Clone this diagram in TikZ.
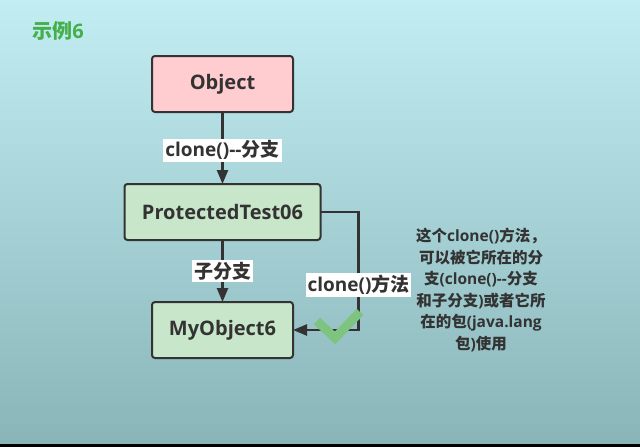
\documentclass[tikz,border=0pt]{standalone}
\usepackage{fontspec}
\setmainfont{Open Sans}
\newfontfamily\cjk{Noto Sans CJK SC}
\usetikzlibrary{positioning,arrows.meta}
\newcommand{\zht}[1]{{\cjk #1}}
\definecolor{bgtop}{HTML}{C2EEF3}
\definecolor{bgbot}{HTML}{89B4B8}
\definecolor{line}{HTML}{333333}
\definecolor{txt}{HTML}{333333}
\definecolor{pinkfill}{HTML}{FFCCD0}
\definecolor{greenfill}{HTML}{C8E6C9}
\definecolor{titlegreen}{HTML}{45B04B}
\definecolor{checkgreen}{HTML}{7CC47F}

\begin{document}
\begin{tikzpicture}[x=1pt,y=-1pt,
    box/.style={draw=line,line width=2pt,rounded corners=3pt,outer sep=0pt,
        minimum height=56pt,text=txt,font=\bfseries\fontsize{20}{24}\selectfont},
    edge/.style={-{Triangle[length=14pt,width=11pt]},line width=2.5pt,draw=line},
    lbl/.style={fill=white,text=txt,inner sep=2pt,font=\bfseries\fontsize{19}{23}\selectfont}]
    \useasboundingbox (0,0) rectangle (640,447);

    %--------------------------------------------
    % Background
    \shade[top color=bgtop,bottom color=bgbot] (0,0) rectangle (640,444);
    \fill[black] (0,444) rectangle (640,447);

    %--------------------------------------------
    % Nodes
    \node[text=titlegreen,font=\bfseries\fontsize{20}{24}\selectfont](title) at (58,31){\zht{示例}6};

    \node[box,fill=pinkfill,minimum width=141pt](obj) at (222.5,84){Object};

    \node[box,fill=greenfill,minimum width=196pt,below=72pt of obj](pt){ProtectedTest06};

    \node[box,fill=greenfill,minimum width=141pt,below=62pt of pt](my){MyObject6};

    \node[text=txt,align=center,font=\bfseries\fontsize{15.5}{21.5}\selectfont](note) at (481,290)
        {\zht{这个}clone()\zht{方法，}\\
         \zht{可以被它所在的分}\\
         \zht{支}(clone()-{}-\zht{分支}\\
         \zht{和子分支})\zht{或者它所}\\
         \zht{在的包}(java.lang\\
         \zht{包})\zht{使用}};

    %--------------------------------------------
    % Edges
    \draw[edge] (obj) -- node[lbl,pos=0.53]{clone()-{}-\zht{分支}} (pt);
    \draw[edge] (pt) -- node[lbl]{\zht{子分支}} (my);
    \draw[edge] (pt.east) -- ++(38,0) |- node[lbl,pos=0.31]{clone()\zht{方法}} (my.east);

    % The check mark
    \draw[checkgreen,line width=9pt] (317,321) -- (335,338) -- (360,312);
\end{tikzpicture}
\end{document}
